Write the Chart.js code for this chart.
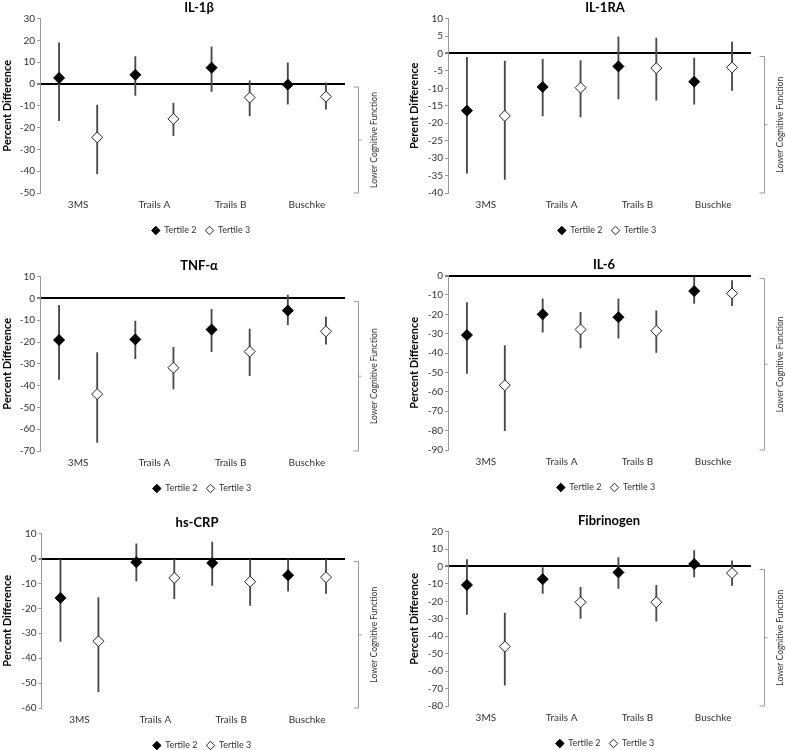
<!DOCTYPE html>
<html><head><meta charset="utf-8">
<script src="https://cdn.jsdelivr.net/npm/chart.js@4"></script>
<style>
html,body{margin:0;padding:0;background:#fff;overflow:hidden;}
#wrap{position:relative;width:786px;height:750px;overflow:hidden;}
canvas{position:absolute;}
</style></head><body><div id="wrap">
<canvas id="c0" width="393" height="245"></canvas>
<canvas id="c1" width="393" height="245"></canvas>
<canvas id="c2" width="393" height="245"></canvas>
<canvas id="c3" width="393" height="245"></canvas>
<canvas id="c4" width="393" height="245"></canvas>
<canvas id="c5" width="393" height="245"></canvas>
</div>
<script>
// ---------------- DATA ----------------
const CATEGORIES = ['3MS', 'Trails A', 'Trails B', 'Buschke'];
const SERIES = ['Tertile 2', 'Tertile 3'];
const TITLES = ['IL-1β', 'IL-1RA', 'TNF-α', 'IL-6', 'hs-CRP', 'Fibrinogen'];
const Y_TITLES = ['Percent Difference', 'Perent Difference', 'Percent Difference', 'Percent Difference', 'Percent Difference', 'Percent Difference'];
const SIDE_NOTE = 'Lower Cognitive Function';

// y axis: [min, max, step]
const IL1B_Y = [-50, 30, 10];
const IL1RA_Y = [-40, 10, 5];
const TNF_Y = [-70, 10, 10];
const IL6_Y = [-90, 0, 10];
const CRP_Y = [-60, 10, 10];
const FIB_Y = [-80, 20, 10];

const IL1B_T2 = [2.8, 4.2, 7.5, -0.3];
const IL1B_T2_CI = [[-16.8, 18.9], [-5.2, 12.6], [-3.4, 17.1], [-9.2, 9.7]];
const IL1B_T3 = [-24.5, -16.0, -6.2, -5.8];
const IL1B_T3_CI = [[-41.1, -9.7], [-23.7, -8.8], [-14.6, 1.5], [-11.5, 0.5]];

const IL1RA_T2 = [-16.4, -9.6, -3.7, -8.1];
const IL1RA_T2_CI = [[-34.3, -1.1], [-17.9, -1.7], [-13.0, 4.8], [-14.5, -1.3]];
const IL1RA_T3 = [-17.9, -9.8, -4.2, -4.0];
const IL1RA_T3_CI = [[-36.1, -2.2], [-18.2, -2.0], [-13.4, 4.4], [-10.6, 3.3]];

const TNF_T2 = [-19.1, -18.8, -14.3, -5.6];
const TNF_T2_CI = [[-37.2, -3.2], [-27.6, -10.4], [-24.4, -5.0], [-12.1, 1.5]];
const TNF_T3 = [-43.9, -31.8, -24.4, -15.1];
const TNF_T3_CI = [[-66.1, -24.8], [-41.5, -22.5], [-35.4, -14.1], [-21.0, -8.6]];

const IL6_T2 = [-30.7, -20.0, -21.5, -8.0];
const IL6_T2_CI = [[-50.5, -13.9], [-29.2, -12.0], [-32.3, -12.0], [-14.4, -0.9]];
const IL6_T3 = [-56.6, -27.8, -28.5, -9.2];
const IL6_T3_CI = [[-80.0, -36.1], [-37.3, -18.9], [-39.6, -18.2], [-15.5, -2.6]];

const CRP_T2 = [-15.8, -1.5, -1.8, -6.7];
const CRP_T2_CI = [[-33.3, 0], [-9.0, 5.9], [-10.8, 6.6], [-13.1, 0]];
const CRP_T3 = [-33.2, -7.8, -9.3, -7.5];
const CRP_T3_CI = [[-53.4, -15.7], [-16.1, 0], [-18.8, 0], [-14.0, 0]];

const FIB_T2 = [-10.6, -7.3, -3.4, 1.4];
const FIB_T2_CI = [[-27.5, 3.9], [-15.5, 0], [-12.6, 5.1], [-6.0, 9.1]];
const FIB_T3 = [-45.9, -20.5, -20.5, -3.8];
const FIB_T3_CI = [[-68.0, -26.7], [-29.8, -12.0], [-31.4, -10.8], [-10.8, 3.3]];

// ---------------- PANELS ----------------
const PANELS = [
  {t2: IL1B_T2, t2ci: IL1B_T2_CI, t3: IL1B_T3, t3ci: IL1B_T3_CI, y: IL1B_Y},
  {t2: IL1RA_T2, t2ci: IL1RA_T2_CI, t3: IL1RA_T3, t3ci: IL1RA_T3_CI, y: IL1RA_Y},
  {t2: TNF_T2, t2ci: TNF_T2_CI, t3: TNF_T3, t3ci: TNF_T3_CI, y: TNF_Y},
  {t2: IL6_T2, t2ci: IL6_T2_CI, t3: IL6_T3, t3ci: IL6_T3_CI, y: IL6_Y},
  {t2: CRP_T2, t2ci: CRP_T2_CI, t3: CRP_T3, t3ci: CRP_T3_CI, y: CRP_Y},
  {t2: FIB_T2, t2ci: FIB_T2_CI, t3: FIB_T3, t3ci: FIB_T3_CI, y: FIB_Y}
];

// ---------------- LAYOUT / STYLE ----------------
const LAYOUT = [
  {left: 0,   top: 0,   padL: 0,  axisW: 40,   padR: 48, legendC: 201, titleC: 199},
  {left: 393, top: 0,   padL: 14, axisW: 41,   padR: 35, legendC: 214, titleC: 212},
  {left: 0,   top: 258, padL: 0,  axisW: 40,   padR: 48, legendC: 202, titleC: 199},
  {left: 393, top: 257, padL: 14, axisW: 41,   padR: 35, legendC: 213, titleC: 211},
  {left: 0,   top: 515, padL: 0,  axisW: 41.5, padR: 48, legendC: 202, titleC: 197},
  {left: 393, top: 513, padL: 14, axisW: 41,   padR: 35, legendC: 212, titleC: 216}
];
const SERIES_OFFSET = [-0.25, 0.25];
const FONT = 'Lato, "Open Sans", sans-serif';
const TEXT = '#333333';
const ERR_COLOR = '#4a4a4a';
const AXIS_GRAY = '#9a9a9a';

Chart.defaults.font.family = FONT;

function makeChart(idx) {
  const p = PANELS[idx];
  const L = LAYOUT[idx];
  const cv = document.getElementById('c' + idx);
  cv.style.left = L.left + 'px';
  cv.style.top = L.top + 'px';

  const pts = (vals, s) => vals.map((v, i) => ({x: i + SERIES_OFFSET[s], y: v}));

  const bracket = {
    id: 'bracket',
    afterDraw(chart) {
      const ctx = chart.ctx;
      const ca = chart.chartArea;
      const ys = chart.scales.y;
      const top = ys.getPixelForValue(0) + 3;
      const bot = ca.bottom;
      const x = ca.right + 13.5;
      const mid = (top + bot) / 2;
      ctx.save();
      ctx.strokeStyle = AXIS_GRAY;
      ctx.lineWidth = 1;
      ctx.beginPath();
      ctx.moveTo(x - 5, top); ctx.lineTo(x, top); ctx.lineTo(x, bot); ctx.lineTo(x - 5, bot);
      ctx.moveTo(x, mid); ctx.lineTo(x + 3, mid);
      ctx.stroke();
      ctx.translate(ca.right + 29, mid);
      ctx.rotate(-Math.PI / 2);
      ctx.fillStyle = TEXT;
      ctx.font = '8.5px ' + FONT;
      ctx.textAlign = 'center';
      ctx.textBaseline = 'middle';
      ctx.fillText(SIDE_NOTE, 0, 0);
      ctx.restore();
    }
  };
  const boxShift = {
    id: 'boxShift',
    afterLayout(chart) {
      const lg = chart.legend;
      if (lg) {
        const dx = L.legendC - (lg.left + lg.right) / 2;
        lg.left += dx; lg.right += dx;
      }
      const tb = chart.titleBlock;
      if (tb) {
        const dt = L.titleC - (tb.left + tb.right) / 2;
        tb.left += dt; tb.right += dt;
      }
    }
  };

  return new Chart(cv, {
    type: 'scatter',
    data: {
      datasets: [
        {type: 'scatter', label: SERIES[0], data: pts(p.t2, 0), order: 0,
          pointStyle: 'rectRot', pointRadius: 5.5, pointHoverRadius: 5.5,
          backgroundColor: '#000', borderColor: '#000', borderWidth: 1,
          pointBackgroundColor: '#000', pointBorderColor: '#000', pointBorderWidth: 1},
        {type: 'scatter', label: SERIES[1], data: pts(p.t3, 1), order: 0,
          pointStyle: 'rectRot', pointRadius: 5.5, pointHoverRadius: 5.5,
          backgroundColor: '#fff', borderColor: '#222', borderWidth: 1,
          pointBackgroundColor: '#fff', pointBorderColor: '#222', pointBorderWidth: 1},
        {type: 'bar', label: SERIES[0] + ' CI', data: pts(p.t2ci, 0), order: 1,
          grouped: false, barThickness: 1.2, backgroundColor: ERR_COLOR, borderWidth: 0},
        {type: 'bar', label: SERIES[1] + ' CI', data: pts(p.t3ci, 1), order: 1,
          grouped: false, barThickness: 1.2, backgroundColor: ERR_COLOR, borderWidth: 0}
      ]
    },
    options: {
      responsive: false,
      animation: false,
      layout: {padding: {left: L.padL, right: L.padR, top: 0, bottom: 0}},
      plugins: {
        title: {display: true, text: TITLES[idx], color: '#000',
          font: {family: FONT, size: 13, weight: 'bold'}, padding: {top: 0, bottom: 3}},
        legend: {display: true, position: 'bottom',
          labels: {usePointStyle: true, boxWidth: 8, boxHeight: 6, padding: 9,
            color: TEXT, font: {family: FONT, size: 9},
            filter: (it) => it.datasetIndex < 2}},
        tooltip: {enabled: false}
      },
      scales: {
        x: {
          type: 'linear', min: -0.5, max: 3.5, offset: false,
          afterBuildTicks: (s) => { s.ticks = CATEGORIES.map((c, i) => ({value: i})); },
          ticks: {callback: (v) => CATEGORIES[v], autoSkip: false, maxRotation: 0, minRotation: 0,
            padding: 6, color: TEXT, font: {family: FONT, size: 10}},
          grid: {display: false, drawTicks: false, offset: false},
          border: {display: false},
          afterFit: (s) => { s.height = 24; }
        },
        y: {
          min: p.y[0], max: p.y[1],
          ticks: {stepSize: p.y[2], color: TEXT, padding: 2, font: {family: FONT, size: 10}},
          grid: {
            color: (c) => (c.tick && c.tick.value === 0) ? '#000' : 'rgba(0,0,0,0)',
            lineWidth: (c) => (c.tick && c.tick.value === 0) ? 2 : 1,
            tickColor: (c) => (c.tick && c.tick.value === 0) ? '#000' : AXIS_GRAY,
            tickWidth: 1, tickLength: 3
          },
          border: {display: true, color: AXIS_GRAY, width: 1},
          title: {display: true, text: Y_TITLES[idx], color: '#000',
            font: {family: FONT, size: 11, weight: 'bold'}, padding: {top: 1, bottom: 2}},
          afterFit: (s) => { s.width = L.axisW; }
        }
      }
    },
    plugins: [bracket, boxShift]
  });
}

for (let i = 0; i < PANELS.length; i++) makeChart(i);
</script>
</body></html>
